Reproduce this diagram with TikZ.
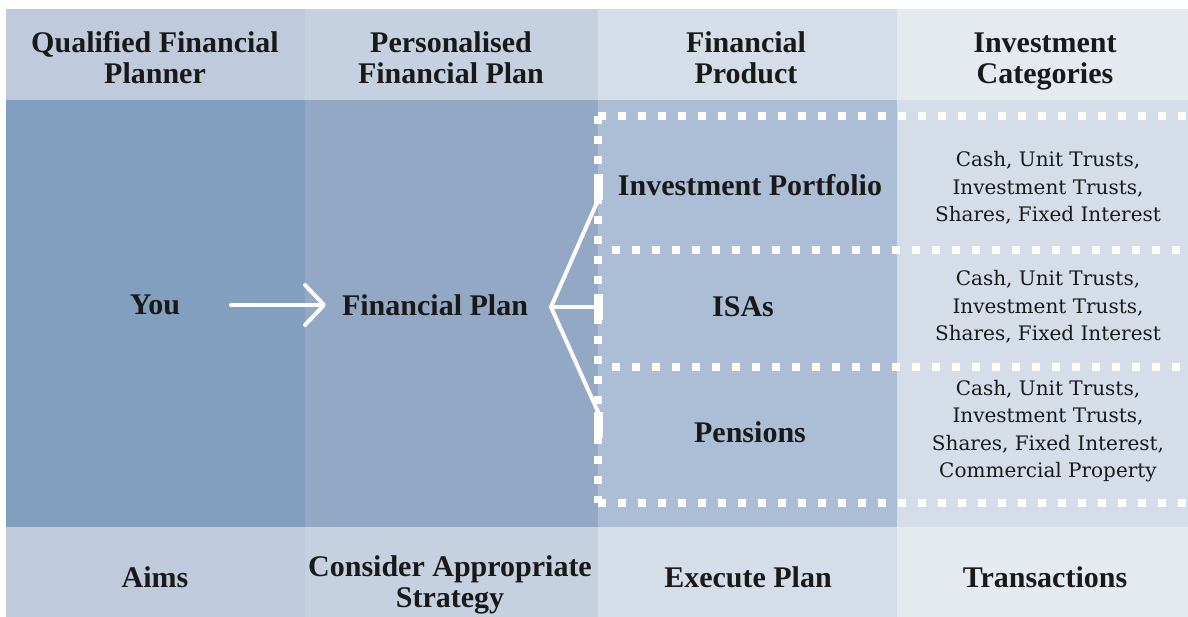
\documentclass[tikz,border=0pt]{standalone}
\usepackage{fontspec}
\setmainfont{DejaVu Serif}
\newfontfamily\hdfont{Liberation Serif}
\usetikzlibrary{arrows.meta}
\definecolor{hA}{HTML}{BFCBDC}
\definecolor{hB}{HTML}{C5D1E0}
\definecolor{hC}{HTML}{D5DDE8}
\definecolor{hD}{HTML}{E5EAF0}
\definecolor{mA}{HTML}{839FBF}
\definecolor{mB}{HTML}{92A8C5}
\definecolor{mC}{HTML}{ACBED5}
\definecolor{mD}{HTML}{D4DDE8}
\tikzset{
  hd/.style={font=\hdfont\bfseries\fontsize{30}{31}\selectfont, align=center, text=black!90, inner sep=0pt},
  sm/.style={font=\fontsize{20}{27.5}\selectfont, align=center, text=black!90, inner sep=0pt},
  dashln/.style={white, line width=8pt, dash pattern=on 8pt off 12pt},
  conn/.style={white, line width=4pt, line cap=round},
  barnode/.style={fill=white, draw=none, minimum width=9pt, minimum height=26pt, inner sep=0pt}
}
\begin{document}
\begin{tikzpicture}[x=1pt,y=-1pt]
\useasboundingbox (0,0) rectangle (1188,617);
\fill[white] (0,0) rectangle (1188,617);
% header row
\fill[hA] (6,9) rectangle (305,100);
\fill[hB] (305,9) rectangle (598,100);
\fill[hC] (598,9) rectangle (897,100);
\fill[hD] (897,9) rectangle (1188,100);
% middle row
\fill[mA] (6,100) rectangle (305,527);
\fill[mB] (305,100) rectangle (598,527);
\fill[mC] (598,100) rectangle (897,527);
\fill[mD] (897,100) rectangle (1188,527);
% bottom row
\fill[hA] (6,527) rectangle (305,617);
\fill[hB] (305,527) rectangle (598,617);
\fill[hC] (598,527) rectangle (897,617);
\fill[hD] (897,527) rectangle (1188,617);
% dashed frame
\draw[dashln] (598,116) -- (1188,116);
\draw[dashln] (598,116) -- (598,503);
\draw[dashln] (598,503) -- (1188,503);
\draw[dashln] (612,250) -- (1188,250);
\draw[dashln] (612,367) -- (1188,367);
% headers
\node[hd] (h1) at (155,58) {Qualified Financial\\Planner};
\node[hd] (h2) at (451,58) {Personalised\\Financial Plan};
\node[hd] (h3) at (746,58) {Financial\\Product};
\node[hd] (h4) at (1045,61) {Investment\\Categories};
% middle
\node[hd] (you) at (155,305) {You};
\node[hd] (fplan) at (435,305) {Financial Plan};
\node[hd] (ip) at (750,185) {Investment Portfolio};
\node[hd] (isa) at (743,307) {ISAs};
\node[hd] (pen) at (750,432) {Pensions};
\node[sm] (c1) at (1048,188) {Cash, Unit Trusts,\\Investment Trusts,\\Shares, Fixed Interest};
\node[sm] (c2) at (1048,307) {Cash, Unit Trusts,\\Investment Trusts,\\Shares, Fixed Interest};
\node[sm] (c3) at (1048,431) {Cash, Unit Trusts,\\Investment Trusts,\\Shares, Fixed Interest,\\Commercial Property};
% bottom
\node[hd] (b1t) at (155,577) {Aims};
\node[hd] (b2t) at (450,585) {Consider Appropriate\\Strategy};
\node[hd] (b3t) at (748,577) {Execute Plan};
\node[hd] (b4t) at (1045,577) {Transactions};
% arrow
\coordinate (a1) at (231,305);
\coordinate (a2) at (326,305);
\draw[conn, -{Straight Barb[length=19pt,width=40pt,round]}] (a1) -- (a2);
% fork
\coordinate (fork) at (551,307);
\node[barnode] (t1) at (598,187) {};
\node[barnode] (t2) at (598,307) {};
\node[barnode] (t3) at (598,425) {};
\draw[conn] (t1.south) -- (fork) -- (t3.north);
\draw[conn] (fork) -- (t2.center);
\end{tikzpicture}
\end{document}
